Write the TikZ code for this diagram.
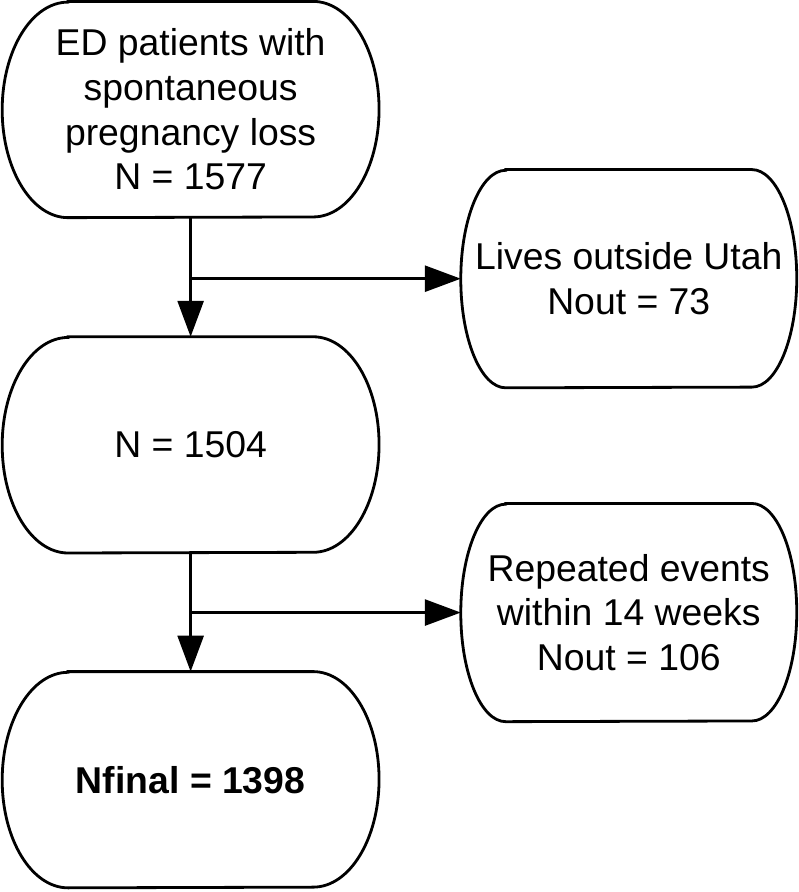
\documentclass[tikz,border=0pt]{standalone}
\usepackage{fontspec}
\setmainfont{Liberation Sans}
\usetikzlibrary{arrows.meta}

% Kapsel um einen Knoten: Name, x-Radius, y-Radius
\newcommand{\kapsel}[3]{%
	\draw[rand] ([xshift=#2]#1.north west) -- ([xshift=-#2]#1.north east)
		arc[start angle=90, end angle=-90, x radius=#2, y radius=#3]
		-- ([xshift=#2]#1.south west)
		arc[start angle=270, end angle=90, x radius=#2, y radius=#3] -- cycle;}

\begin{document}
\begin{tikzpicture}[x=0.02cm, y=-0.02cm,
	rand/.style={line width=1.6pt},
	pfeil/.style={line width=1.6pt, -{Triangle[length=0.72cm, width=0.52cm]}},
	feld/.style={minimum width=7.54cm, minimum height=4.32cm, inner sep=0pt, align=center, font=\fontsize{21.3}{25.5}\selectfont},
	feldr/.style={feld, minimum width=6.72cm, minimum height=4.36cm}]
	\fill[white, fill opacity=0] (0,0) rectangle (800,892); % Weisser Rand
	
	\node[feld] (ed) at (191,108) {ED patients with\\spontaneous\\pregnancy loss\\N = 1577};
	\kapsel{ed}{1.32cm}{2.16cm}
	
	\node[feldr] (utah) at (630,277.5) {Lives outside Utah\\Nout = 73};
	\kapsel{utah}{0.9cm}{2.18cm}
	
	\node[feld] (n1504) at (191,444) {N = 1504};
	\kapsel{n1504}{1.32cm}{2.16cm}
	
	\node[feldr] (wdh) at (630,612) {Repeated events\\within 14 weeks\\Nout = 106};
	\kapsel{wdh}{0.9cm}{2.18cm}
	
	\node[feld] (final) at (191,779.5) {\textbf{Nfinal = 1398}};
	\kapsel{final}{1.32cm}{2.16cm}
	
	% Pfeile
	\coordinate (ab1) at (ed.south |- utah.west);
	\coordinate (ab2) at (n1504.south |- wdh.west);
	\draw[pfeil] (ed.south) -- (n1504.north);
	\draw[pfeil] (ab1) -- (utah.west);
	\draw[pfeil] (n1504.south) -- (final.north);
	\draw[pfeil] (ab2) -- (wdh.west);
	
	%\draw[help lines, step=50] (0,0) grid (800,892);
\end{tikzpicture}
\end{document}
